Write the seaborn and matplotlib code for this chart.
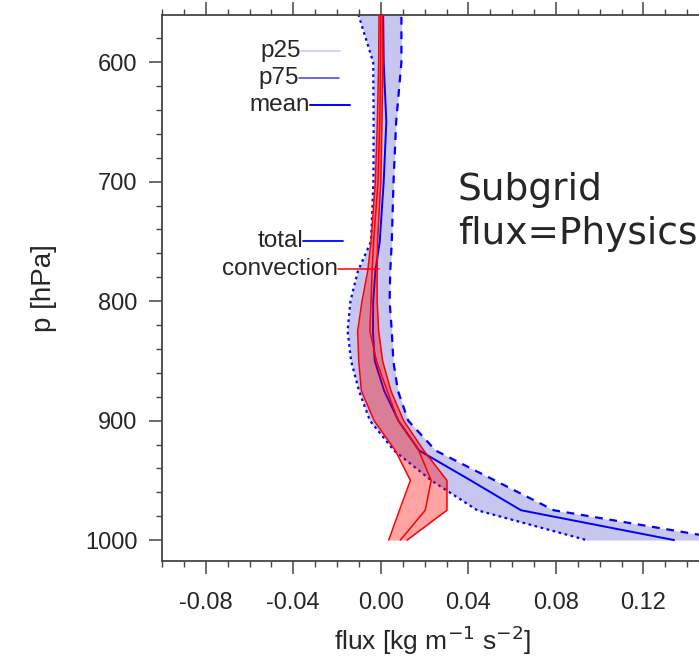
import numpy as np
import pandas as pd
import matplotlib
matplotlib.use("Agg")
import matplotlib.pyplot as plt
from matplotlib.ticker import MultipleLocator, FixedLocator
import seaborn as sns

# Pressure levels (hPa)
levels = [550, 600, 650, 700, 750, 775, 800, 825, 850, 875, 900, 925, 950, 975, 1000]

# Total subgrid momentum flux: 25th / 75th percentile and mean
total_p25 = [-0.0120, -0.0035, -0.0033, -0.0034, -0.0045, -0.0105, -0.0139, -0.0152,
             -0.0136, -0.0100, -0.0050, 0.0060, 0.0230, 0.0440, 0.0940]
total_p75 = [0.0094, 0.0094, 0.0070, 0.0058, 0.0050, 0.0043, 0.0040, 0.0050,
             0.0057, 0.0078, 0.0125, 0.0250, 0.0520, 0.0790, 0.1600]
total_mean = [0.0010, 0.0013, 0.0025, 0.0013, -0.0005, -0.0025, -0.0035, -0.0036,
              -0.0028, 0.0015, 0.0080, 0.0175, 0.0410, 0.0640, 0.1340]

# Convective part of the flux
conv_p25 = [-0.0008, -0.0010, -0.0016, -0.0025, -0.0045, -0.0060, -0.0086, -0.0106,
            -0.0101, -0.0089, -0.0031, 0.0066, 0.0135, 0.0085, 0.0036]
conv_mean = [0.0000, -0.0001, -0.0005, -0.0013, -0.0033, -0.0040, -0.0045, -0.0050,
             -0.0020, 0.0029, 0.0079, 0.0173, 0.0230, 0.0203, 0.0089]
conv_p75 = [0.0008, 0.0010, 0.0005, 0.0000, -0.0015, -0.0017, -0.0017, -0.0010,
            0.0008, 0.0046, 0.0104, 0.0196, 0.0302, 0.0302, 0.0120]

x_major = [-0.08, -0.04, 0.00, 0.04, 0.08, 0.12, 0.16]
x_labels = ["-0.08", "-0.04", "0.00", "0.04", "0.08", "0.12", ""]
y_major = [600, 700, 800, 900, 1000]

sns.set_style("ticks")
plt.rcParams["font.family"] = ["Liberation Sans", "DejaVu Sans"]

W, H = 699, 667
fig = plt.figure(figsize=(W / 100, H / 100), dpi=100)
x_lo, x_hi = -0.10, 0.16
ax_left, ax_right = 162 / W, 731 / W
ax_top, ax_bot = 1 - 15 / H, 1 - 561 / H
ax = fig.add_axes([ax_left, ax_bot, ax_right - ax_left, ax_top - ax_bot])

df = pd.DataFrame({
    "p": levels,
    "total_p25": total_p25, "total_p75": total_p75, "total_mean": total_mean,
    "conv_p25": conv_p25, "conv_p75": conv_p75, "conv_mean": conv_mean,
})

blue = "#0000ff"
red = "#ff0000"

# interquartile ranges
ax.fill_betweenx(df["p"], df["total_p25"], df["total_p75"],
                 color="#c6c6ee", lw=0, zorder=1)

def prof(col, color, ls, lw, z):
    sns.lineplot(data=df, x=col, y="p", orient="y", sort=False, estimator=None,
                 color=color, linestyle=ls, linewidth=lw, ax=ax, zorder=z)

prof("total_p25", blue, (0, (1.2, 1.6)), 1.6, 2)
prof("total_p75", blue, (0, (3.5, 3.0)), 1.6, 2)
prof("total_mean", blue, "-", 1.4, 2)

ax.fill_betweenx(df["p"], df["conv_p25"], df["conv_p75"],
                 color=red, alpha=0.36, lw=0, zorder=3)
prof("conv_p25", red, "-", 1.1, 4)
prof("conv_p75", red, "-", 1.1, 4)
prof("conv_mean", red, "-", 1.1, 4)

ax.set_xlim(x_lo, x_hi)
ax.set_ylim(1017.5, 560.5)

ax.xaxis.set_major_locator(FixedLocator(x_major))
ax.set_xticklabels(x_labels)
ax.xaxis.set_minor_locator(MultipleLocator(0.01))
ax.yaxis.set_major_locator(FixedLocator(y_major))
ax.yaxis.set_minor_locator(MultipleLocator(20))

ax.tick_params(axis="both", which="major", direction="out", length=9.5, width=1.1,
               color="#444444", labelsize=17, top=True, right=True)
ax.tick_params(axis="both", which="minor", direction="out", length=4.5, width=1.0,
               color="#444444", top=True, right=True)
ax.tick_params(axis="x", which="major", pad=13)
ax.tick_params(axis="y", which="major", pad=8)
for s in ax.spines.values():
    s.set_color("#444444")
    s.set_linewidth(1.3)

ax.set_xlabel(r"flux [kg m$^{-1}$ s$^{-2}$]", fontsize=19)
ax.set_ylabel("p [hPa]", fontsize=20, labelpad=20)
ax.xaxis.set_label_coords((433 / W - ax_left) / (ax_right - ax_left), -0.115)

# in-plot key
def key(label, y, x_text, x0, x1, color, lw, ls="-"):
    ax.text(x_text, y, label, ha="right", va="center", fontsize=17.5, zorder=6)
    ax.plot([x0, x1], [y, y], color=color, lw=lw, ls=ls, zorder=6)

key("p25", 590.5, -0.0367, -0.0367, -0.0185, "#c8c8ff", 1.2)
key("p75", 613, -0.0376, -0.0376, -0.0190, "#3a3aff", 1.1)
key("mean", 635.5, -0.0325, -0.0325, -0.0140, blue, 1.4)
key("total", 749.5, -0.0354, -0.0354, -0.0172, blue, 1.3)
key("convection", 773, -0.0195, -0.0195, -0.0010, red, 1.1)

fig.text(458 / W, 1 - 212 / H, "Subgrid\nflux=Physics", fontsize=27,
         family=["DejaVu Sans"], ha="left", va="center", linespacing=1.3)

fig.savefig("out.png", dpi=100)
